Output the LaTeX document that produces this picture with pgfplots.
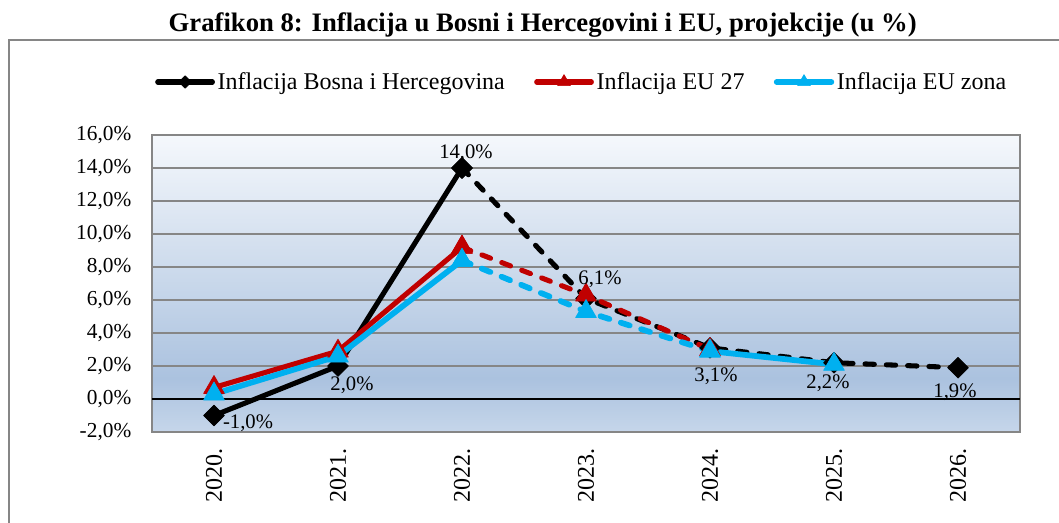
\documentclass[border=0pt]{standalone}
\usepackage{pgfplots}
\pgfplotsset{compat=1.18}
\usepackage{pgfplotstable}
\usepackage{fontspec}
\setmainfont{Liberation Serif}
\definecolor{gridgray}{HTML}{868686}
\definecolor{bgtop}{HTML}{F5F8FC}
\definecolor{bgdark}{HTML}{ABC2DF}
\definecolor{bgbot}{HTML}{C6D6EA}
\definecolor{eured}{HTML}{C00000}
\definecolor{eublue}{HTML}{00B0F0}
\pgfdeclareverticalshading{plotbg}{100bp}{color(0bp)=(bgbot); color(25bp)=(bgbot); color(34bp)=(bgdark); color(75bp)=(bgtop); color(100bp)=(bgtop)}

\pgfplotstableread{
x y lab dx dy
0 -1.0 {-1,0} 25.5 -6
1 2.0 {2,0} 10.5 -14.25
2 14.0 {14,0} 3 11.25
3 6.1 {6,1} 10.5 14.25
4 3.1 {3,1} 4.5 -21
5 2.2 {2,2} -4.5 -15.75
6 1.9 {1,9} -2.25 -18.75
}\bihlabels

\begin{document}
\begin{tikzpicture}
\path[use as bounding box] (0,0) rectangle (794.25pt,391.5pt);
\draw[gridgray, line width=1.1pt] (6.75pt,-2pt) -- (6.75pt,361.5pt) -- (800pt,361.5pt);
\node[font=\bfseries\fontsize{20}{20}\selectfont] at (407pt,372.75pt) {Grafikon 8: Inflacija u Bosni i Hercegovini i EU, projekcije (u \%)};
\begin{axis}[
  at={(114pt,67.5pt)}, anchor=south west,
  scale only axis, width=651pt, height=222.75pt,
  xmin=-0.5, xmax=6.5, ymin=-2, ymax=16,
  clip=false,
  xtick={0,1,2,3,4,5,6},
  xticklabels={2020.,2021.,2022.,2023.,2024.,2025.,2026.},
  xticklabel style={rotate=90, anchor=east, xshift=-9pt, font=\fontsize{18}{18}\selectfont},
  ytick={-2,0,2,4,6,8,10,12,14,16},
  yticklabels={{-2,0\%},{0,0\%},{2,0\%},{4,0\%},{6,0\%},{8,0\%},{10,0\%},{12,0\%},{14,0\%},{16,0\%}},
  yticklabel style={xshift=-12pt, font=\fontsize{16}{16}\selectfont},
  major tick length=0pt,
  ymajorgrids,
  grid style={color=gridgray, line width=1.1pt},
  extra y ticks={0},
  extra y tick labels={},
  extra y tick style={grid style={color=black, line width=1.3pt}},
  axis line style={color=gridgray, line width=1.1pt},
  axis background/.style={shading=plotbg},
  legend style={at={(0.4954,1.1785)}, anchor=center, draw=none, fill=none,
    font=\fontsize{18}{18}\selectfont, legend columns=3,
    /tikz/every even column/.append style={column sep=20pt}},
  legend image code/.code={\draw[mark repeat=2,mark phase=2] plot coordinates {(0pt,0pt) (20.5pt,0pt) (41pt,0pt)};},
  bih/.style={black, line width=3.8pt, line cap=round, line join=round,
    mark=square*, mark size=5.5pt, mark options={solid, rotate=45, line width=0.5pt, fill=black}},
  eu/.style={eured, line width=3.8pt, line cap=round, line join=round,
    mark=triangle*, mark size=9pt, mark options={solid, line width=0.5pt, fill=eured}},
  ez/.style={eublue, line width=4.3pt, line cap=round, line join=round,
    mark=triangle*, mark size=9pt, mark options={solid, line width=0.5pt, fill=eublue}},
  dsh/.style={dash pattern=on 7pt off 9pt},
]
\addplot[bih, legend image post style={mark size=3.3pt}] coordinates {(0,-1.0) (1,2.0) (2,14.0)};
\addlegendentry{Inflacija Bosna i Hercegovina}
\addplot[bih, dsh, forget plot] coordinates {(2,14.0) (3,6.1) (4,3.1) (5,2.2) (6,1.9)};
\addplot[eu, legend image post style={mark size=5.5pt}] coordinates {(0,0.7) (1,2.9) (2,9.2)};
\addlegendentry{Inflacija EU 27}
\addplot[eu, dsh, forget plot] coordinates {(2,9.2) (3,6.3) (4,3.0)};
\addplot[ez, legend image post style={mark size=5.5pt}] coordinates {(0,0.3) (1,2.6) (2,8.4)};
\addlegendentry{Inflacija EU zona}
\addplot[ez, dsh, forget plot] coordinates {(2,8.4) (3,5.3) (4,2.9)};
\addplot[ez, forget plot] coordinates {(4,2.9) (5,2.1)};
\addplot[draw=none, mark=none, forget plot,
  point meta=explicit symbolic,
  visualization depends on={\thisrow{dx}\as\lbldx},
  visualization depends on={\thisrow{dy}\as\lbldy},
  nodes near coords={\pgfplotspointmeta\%},
  nodes near coords style={anchor=center, text=black, xshift=\lbldx pt, yshift=\lbldy pt, font=\fontsize{15.5}{15.5}\selectfont, inner sep=0pt},
] table[x=x, y=y, meta=lab] {\bihlabels};
\end{axis}
\end{tikzpicture}
\end{document}
